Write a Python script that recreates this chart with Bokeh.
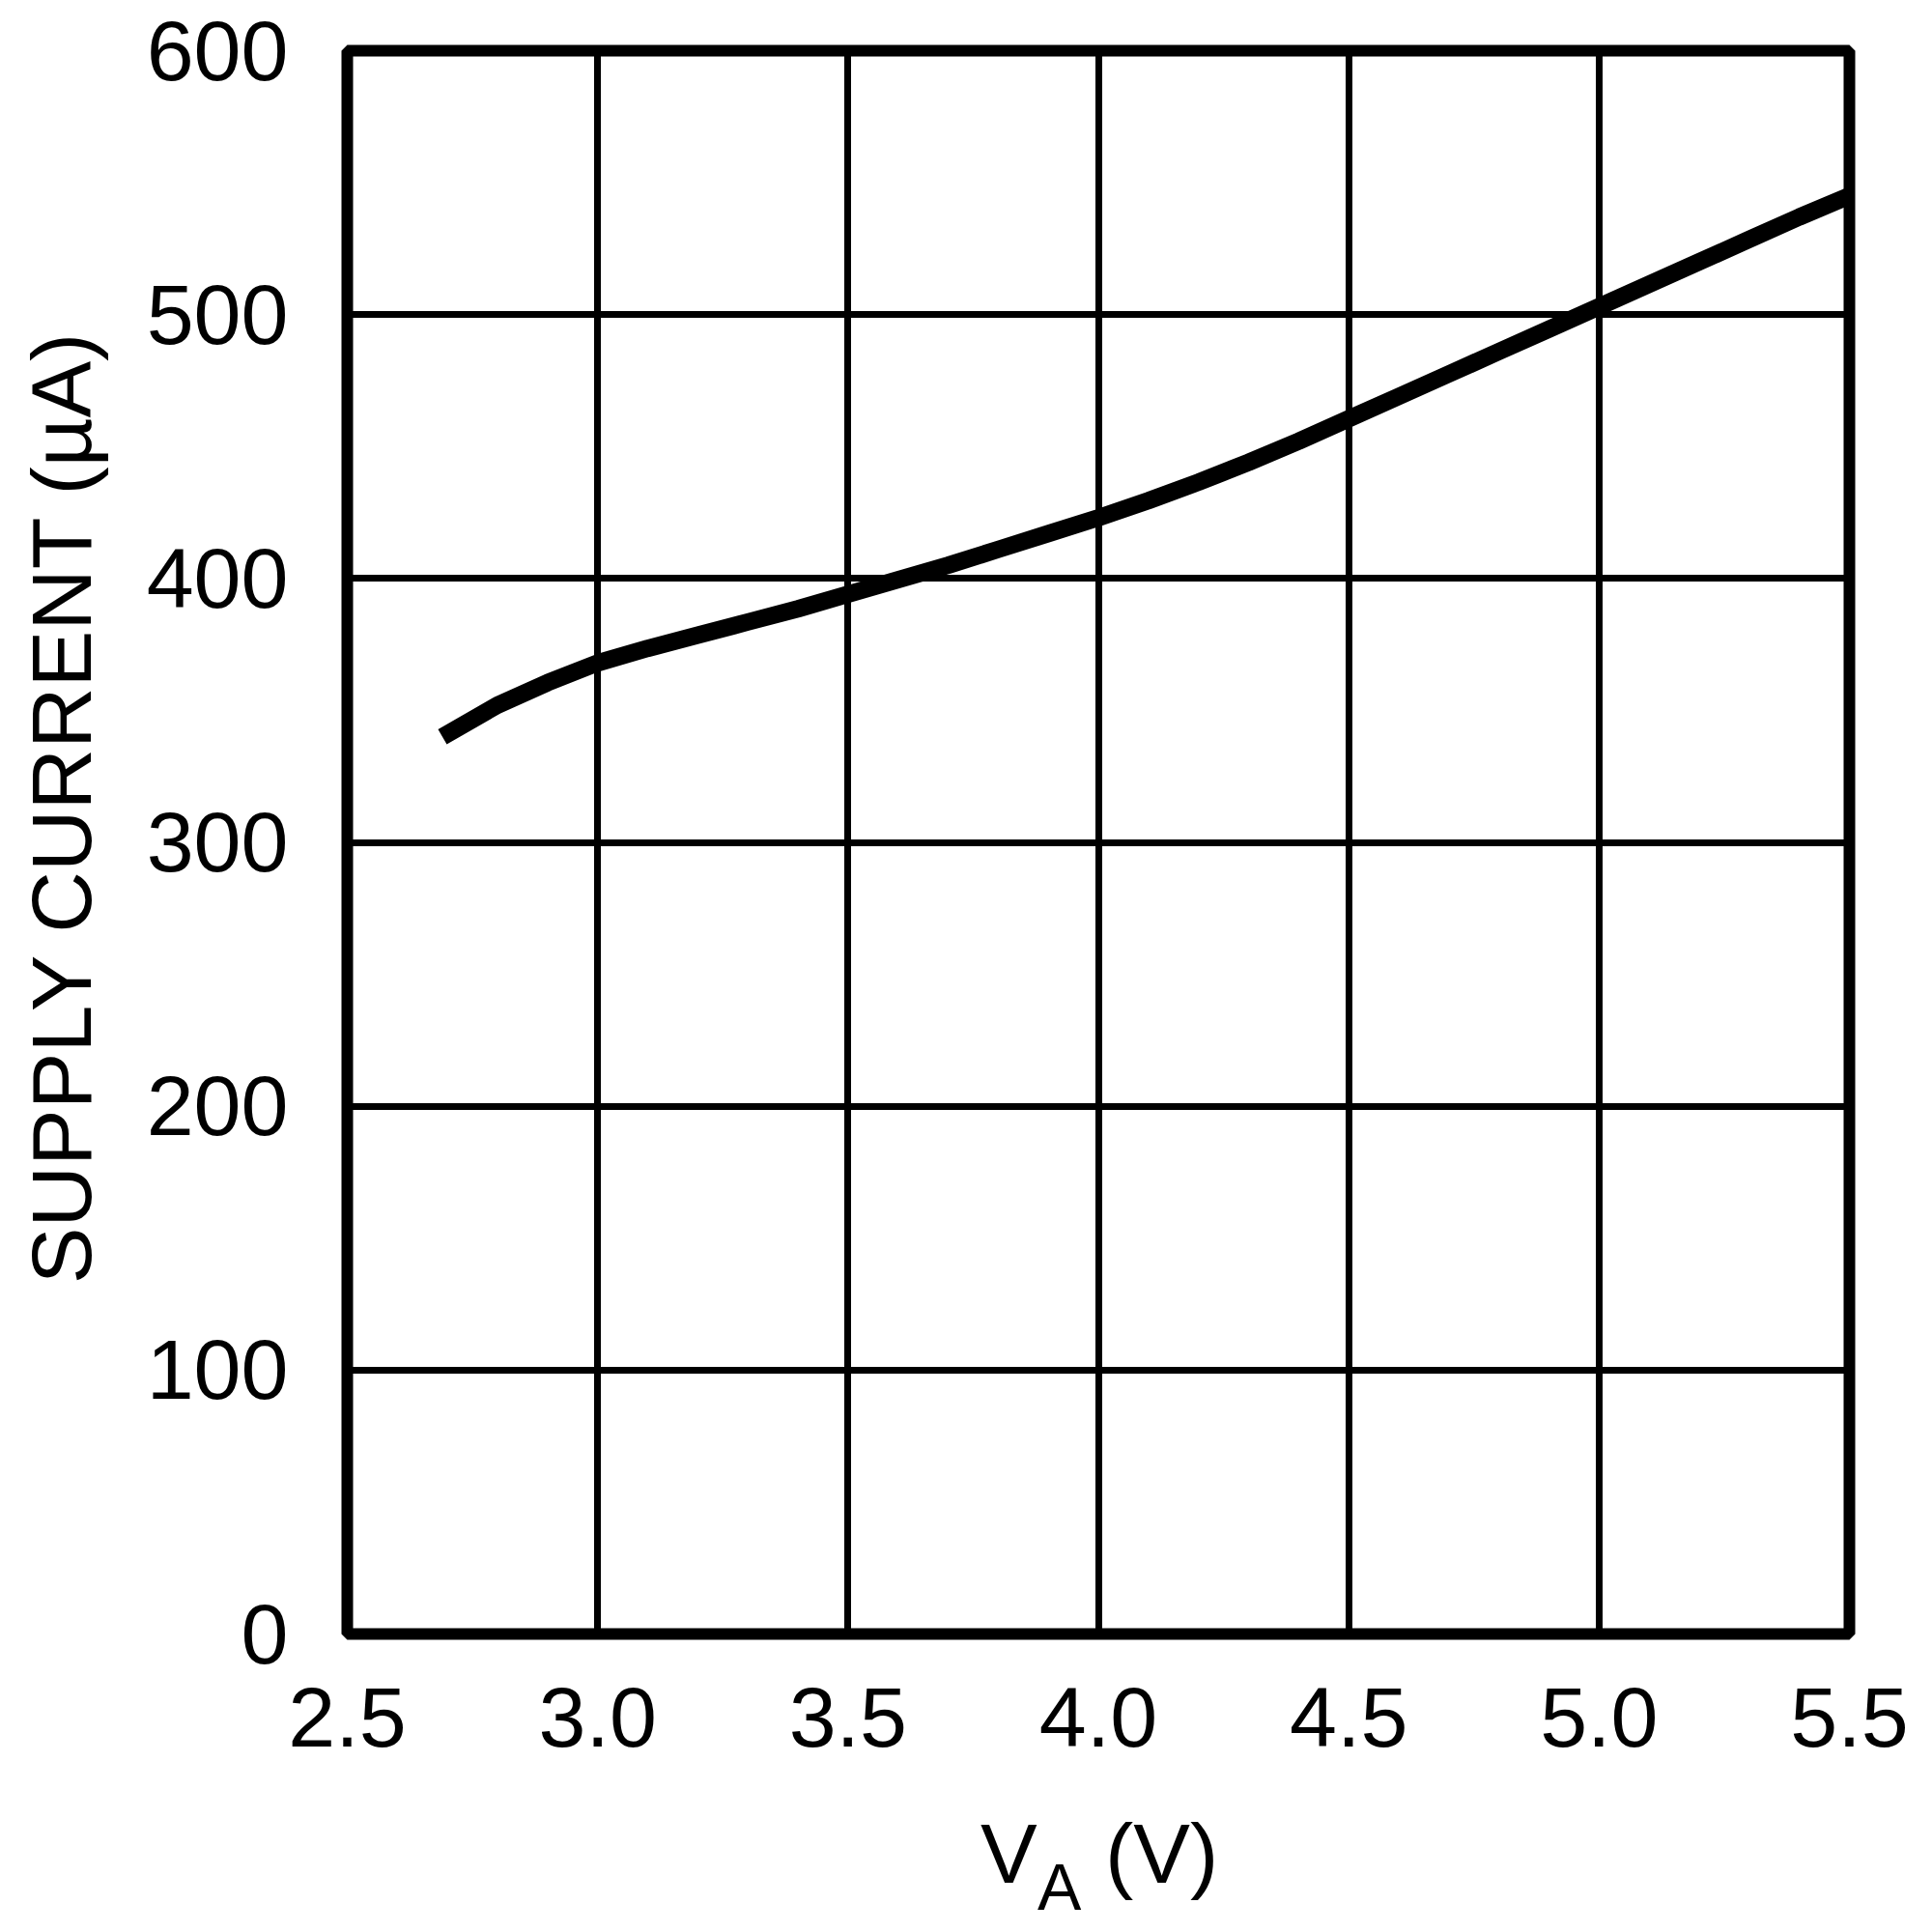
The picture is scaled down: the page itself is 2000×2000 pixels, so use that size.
from bokeh.plotting import figure
from bokeh.models import Range1d, FixedTicker, NumeralTickFormatter, Div
from bokeh.layouts import column
from bokeh.embed import file_html
from bokeh.resources import INLINE

# Data
va_volts = [2.69, 2.8, 2.9, 3.0, 3.1, 3.2, 3.3, 3.4, 3.5, 3.6, 3.7, 3.8, 3.9, 4.0,
            4.1, 4.2, 4.3, 4.4, 4.5, 4.6, 4.7, 4.8, 4.9, 5.0, 5.1, 5.2, 5.3, 5.4, 5.5]
supply_ua = [340, 352, 360.5, 368, 373.5, 378.5, 383.5, 388.5, 394, 399.5, 405, 411, 417, 423,
             429.5, 436.5, 444, 452, 460.5, 469, 477.5, 486, 494.5, 503, 511.5, 520, 528.5, 537, 545]
x_ticks = [2.5, 3.0, 3.5, 4.0, 4.5, 5.0, 5.5]
y_ticks = [0, 100, 200, 300, 400, 500, 600]
x_title_main = "V"
x_title_sub = "A"
x_title_unit = "(V)"
y_title = "SUPPLY CURRENT (µA)"

FONT = "Liberation Sans"

p = figure(width=2000, height=1850, output_backend="svg", toolbar_location=None,
           x_range=Range1d(2.5, 5.5), y_range=Range1d(0, 600),
           min_border_left=359, min_border_right=86, min_border_top=52, min_border_bottom=159)
p.background_fill_color = "white"
p.border_fill_color = "white"
p.outline_line_color = "black"
p.outline_line_width = 12

for ax in (p.xaxis[0], p.yaxis[0]):
    ax.axis_line_color = None
    ax.major_tick_line_color = None
    ax.minor_tick_line_color = None
    ax.major_label_text_font = FONT
    ax.major_label_text_font_size = "88px"
    ax.major_label_text_color = "black"

p.xaxis.ticker = FixedTicker(ticks=x_ticks)
p.yaxis.ticker = FixedTicker(ticks=y_ticks)
p.xaxis.formatter = NumeralTickFormatter(format="0.0")
p.xaxis.major_label_standoff = 50
p.yaxis.major_label_standoff = 55

# y title as axis label (leading no-break spaces nudge it upward like the reference)
p.yaxis.axis_label = "\u00a0\u00a0\u00a0" + y_title
p.yaxis.axis_label_text_font = FONT
p.yaxis.axis_label_text_font_size = "88px"
p.yaxis.axis_label_text_font_style = "normal"
p.yaxis.axis_label_text_color = "black"
p.yaxis.axis_label_standoff = 36

p.xgrid.ticker = FixedTicker(ticks=x_ticks)
p.ygrid.ticker = FixedTicker(ticks=y_ticks)
for g in (p.xgrid[0], p.ygrid[0]):
    g.grid_line_color = "black"
    g.grid_line_width = 7
    g.grid_line_alpha = 1.0

p.line(va_volts, supply_ua, line_color="black", line_width=18)

# x title with subscript, placed under the plot
html = (
    '<div style="position:relative;width:2000px;height:150px;'
    "font-family:'Liberation Sans',Arial,sans-serif;color:black;\">"
    f'<span style="position:absolute;left:1015px;top:25px;font-size:88px;line-height:88px;">{x_title_main}</span>'
    f'<span style="position:absolute;left:1074px;top:69px;font-size:68px;line-height:68px;">{x_title_sub}</span>'
    f'<span style="position:absolute;left:1144px;top:25px;font-size:88px;line-height:88px;">{x_title_unit}</span>'
    "</div>"
)
title_div = Div(text=html, width=2000, height=150, margin=(0, 0, 0, 0))

layout = column(p, title_div, spacing=0)

open("out.html", "w").write(file_html(layout, INLINE))
